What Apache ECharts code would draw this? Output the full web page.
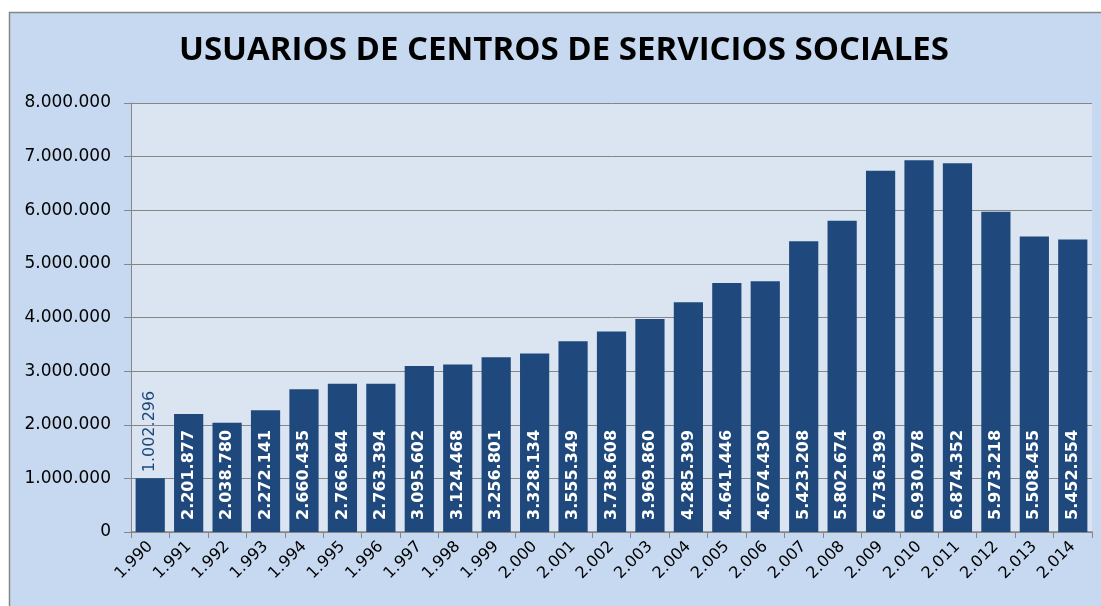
<!DOCTYPE html>
<html>
<head>
<meta charset="utf-8">
<script src="https://cdn.jsdelivr.net/npm/echarts@6/dist/echarts.min.js"></script>
<style>
    html, body { margin: 0; padding: 0; background: #ffffff; }
    #chart { width: 1101px; height: 606px; }
</style>
</head>
<body>
<div id="chart"></div>
<script>
// años y usuarios
var years = ['1.990','1.991','1.992','1.993','1.994','1.995','1.996','1.997','1.998','1.999',
    '2.000','2.001','2.002','2.003','2.004','2.005','2.006','2.007','2.008','2.009',
    '2.010','2.011','2.012','2.013','2.014'];
var usuarios = [1002296, 2201877, 2038780, 2272141, 2660435, 2766844, 2763394, 3095602, 3124468, 3256801,
    3328134, 3555349, 3738608, 3969860, 4285399, 4641446, 4674430, 5423208, 5802674, 6736399,
    6930978, 6874352, 5973218, 5508455, 5452554];
var yTicks = [0, 1000000, 2000000, 3000000, 4000000, 5000000, 6000000, 7000000, 8000000];

function puntos(v) {
    return String(v).replace(/\B(?=(\d{3})+(?!\d))/g, '.');
}

var navy = '#1F497D';
var chart = echarts.init(document.getElementById('chart'));

// el primer valor va encima de la barra (no cabe dentro)
var barData = usuarios.map(function (v, i) {
    if (i === 0) {
        return {
            value: v,
            label: {
                position: 'top',
                color: navy,
                fontWeight: 'normal',
                fontSize: 16,
                distance: 6
            }
        };
    }
    return v;
});

chart.setOption({
    animation: false,
    graphic: [{
        type: 'rect',
        z: -10,
        shape: { x: 9.5, y: 12.5, width: 1100, height: 600 },
        style: { fill: '#C6D9F0', stroke: '#868686', lineWidth: 1.5 }
    }],
    title: {
        text: 'USUARIOS DE CENTROS DE SERVICIOS SOCIALES',
        left: 174,
        top: 29,
        textStyle: {
            fontFamily: '"Open Sans", sans-serif',
            fontSize: 33,
            fontWeight: 'bold',
            color: '#000000'
        }
    },
    grid: {
        left: 131,
        right: 9,
        top: 103,
        bottom: 74,
        show: true,
        backgroundColor: '#DBE5F1',
        borderWidth: 0
    },
    xAxis: {
        type: 'category',
        data: years,
        axisLine: { lineStyle: { color: '#868686', width: 1.5 } },
        axisTick: { show: true, alignWithLabel: false, length: 6, lineStyle: { color: '#868686' } },
        axisLabel: {
            interval: 0,
            rotate: 45,
            margin: 12,
            fontFamily: 'DejaVu Sans',
            fontSize: 16,
            color: '#000000'
        }
    },
    yAxis: {
        type: 'value',
        min: yTicks[0],
        max: yTicks[yTicks.length - 1],
        interval: yTicks[1] - yTicks[0],
        axisLine: { show: true, lineStyle: { color: '#868686' } },
        axisTick: { show: true, length: 7, lineStyle: { color: '#868686' } },
        splitLine: { lineStyle: { color: '#868686', width: 1 } },
        axisLabel: {
            margin: 20,
            fontFamily: 'DejaVu Sans',
            fontSize: 17,
            color: '#000000',
            formatter: function (v) { return puntos(v); }
        }
    },
    series: [{
        type: 'bar',
        data: barData,
        barCategoryGap: '24%',
        itemStyle: { color: navy },
        label: {
            show: true,
            position: 'insideBottom',
            rotate: 90,
            align: 'left',
            verticalAlign: 'middle',
            distance: 12,
            fontFamily: 'DejaVu Sans',
            fontSize: 16,
            fontWeight: 'bold',
            color: '#ffffff',
            formatter: function (p) { return puntos(p.value); }
        }
    }]
});
</script>
</body>
</html>
